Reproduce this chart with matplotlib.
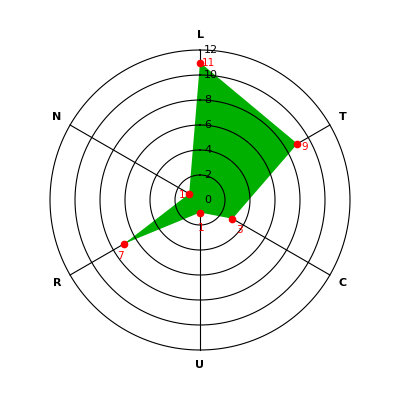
import numpy as np
import matplotlib
matplotlib.use("Agg")
import matplotlib.pyplot as plt

categories = ["L", "T", "C", "U", "R", "N"]
values = [11, 9, 3, 1, 7, 1]
rticks = [0, 2, 4, 6, 8, 10, 12]
rmax = 12

fig = plt.figure(figsize=(4, 4), dpi=100)
fig.patch.set_facecolor("white")
ax = fig.add_axes([0.125, 0.125, 0.75, 0.75], projection="polar")
ax.set_theta_zero_location("N")
ax.set_theta_direction(-1)
ax.set_ylim(0, rmax)
ax.grid(False)
ax.set_xticks([])
ax.set_yticks([])
ax.spines["polar"].set_visible(False)

n = len(categories)
angles = np.arange(n) * 2 * np.pi / n

# spokes
for a in angles:
    ax.plot([a, a], [0, rmax], color="black", lw=0.8, zorder=1, clip_on=False)

# filled polygon
ca = np.concatenate([angles, angles[:1]])
cv = values + values[:1]
ax.fill(ca, cv, color="#00b000", lw=0, zorder=2)

# circles
th = np.linspace(0, 2 * np.pi, 400)
for r in rticks[1:]:
    ax.plot(th, np.full_like(th, r), color="black", lw=0.8, zorder=3,
            clip_on=False)

# radial tick labels
for r in rticks:
    ax.annotate(str(r), xy=(0, r), xytext=(3, 0), textcoords="offset points",
                ha="left", va="center", fontsize=8, color="black", zorder=5)

# markers
ax.plot(angles, values, "o", color="red", ms=4.5, zorder=4, clip_on=False)

# value labels
offsets = [(6, 0), (5, -2), (5, -8), (1, -11), (-3, -9), (-5, -1)]
for a, v, off in zip(angles, values, offsets):
    ax.annotate(str(v), xy=(a, v), xytext=off, textcoords="offset points",
                ha="center", va="center", fontsize=7.5, color="red", zorder=6)

# category labels
for a, c in zip(angles, categories):
    ax.text(a, 13.2, c, ha="center", va="center", fontsize=8,
            fontweight="bold", color="black")

fig.savefig("out.png", dpi=100, facecolor="white")
